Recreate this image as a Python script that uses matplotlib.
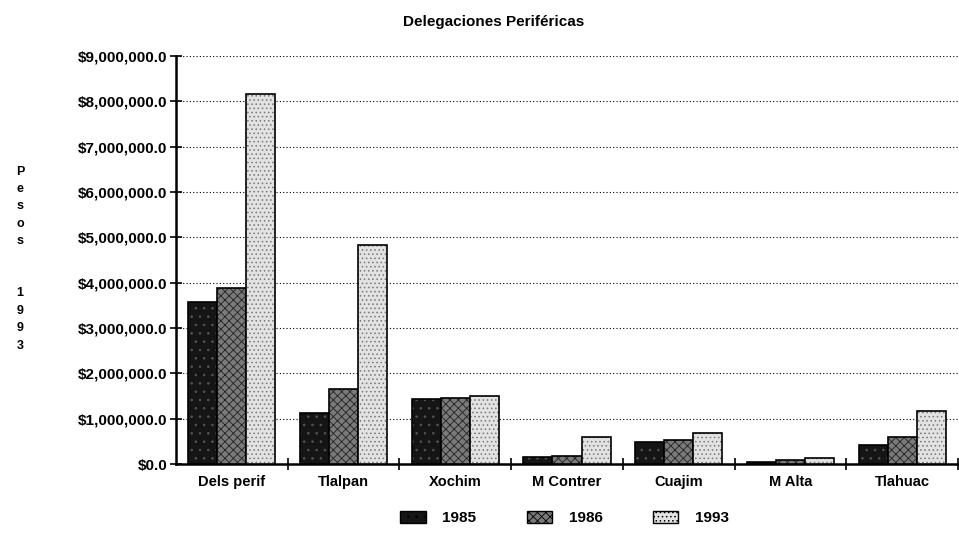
import matplotlib
matplotlib.use("Agg")
import matplotlib.pyplot as plt
from matplotlib.patches import Patch
from matplotlib.ticker import FuncFormatter, MultipleLocator
import numpy as np

# Data (pesos, 1993 prices)
categories = ["Dels perif", "Tlalpan", "Xochim", "M Contrer", "Cuajim", "M Alta", "Tlahuac"]
years = ["1985", "1986", "1993"]
v1985 = [3580000, 1120000, 1430000, 150000, 480000, 50000, 420000]
v1986 = [3880000, 1650000, 1460000, 180000, 520000, 80000, 600000]
v1993 = [8170000, 4820000, 1500000, 600000, 690000, 130000, 1170000]
series = [v1985, v1986, v1993]

FACES = ["#151515", "#7a7a7a", "#e2e2e2"]
HATCHES = ["..", "xxxx", "...."]
HATCH_COLORS = ["#555555", "#222222", "#777777"]

plt.rcParams["font.family"] = ["Liberation Sans", "DejaVu Sans"]
plt.rcParams["font.weight"] = "bold"
plt.rcParams["hatch.linewidth"] = 0.6

fig = plt.figure(figsize=(9.59, 5.38), dpi=100)
ax = fig.add_axes([0.1835, 0.1375, 0.8155, 0.7585])

x = np.arange(len(categories))
w = 0.26
for i, vals in enumerate(series):
    bars = ax.bar(x + (i - 1) * w, vals, width=w, color=FACES[i],
                  edgecolor="black", linewidth=1.2, zorder=3)
    for b in bars:
        b.set_hatch(HATCHES[i])
        b._hatch_color = matplotlib.colors.to_rgba(HATCH_COLORS[i])

ax.set_xlim(-0.5, len(categories) - 0.5)
ax.set_ylim(0, 9000000)
ax.yaxis.set_major_locator(MultipleLocator(1000000))
ax.yaxis.set_major_formatter(FuncFormatter(lambda v, p: f"${v:,.1f}"))
ax.grid(axis="y", linestyle=(0, (1, 2)), color="black", linewidth=0.8, zorder=0)

ax.set_xticks(x)
ax.set_xticklabels(categories)
ax.set_xticks(np.arange(len(categories)) + 0.5, minor=True)
ax.tick_params(axis="x", which="major", length=0, pad=8, labelsize=10.5)
ax.tick_params(axis="x", which="minor", direction="inout", length=8, width=1.2)
ax.tick_params(axis="y", direction="inout", length=8, width=1.2, pad=2, labelsize=11)

for s in ["top", "right"]:
    ax.spines[s].set_visible(False)
for s in ["left", "bottom"]:
    ax.spines[s].set_linewidth(1.8)

fig.text(0.515, 0.959, "Delegaciones Periféricas", ha="center", va="center",
         fontsize=11, fontweight="bold")
fig.text(0.021, 0.5195, "P\ne\ns\no\ns\n\n\n1\n9\n9\n3", ha="center", va="center",
         fontsize=9, fontweight="bold", linespacing=1.6)

handles = [Patch(facecolor=FACES[i], edgecolor="black", hatch=HATCHES[i], linewidth=1)
           for i in range(3)]
fig.legend(handles, years, loc="center", bbox_to_anchor=(0.589, 0.037), ncol=3,
           frameon=False, fontsize=11, handlelength=1.65, handleheight=0.9,
           columnspacing=3.3, handletextpad=1.1)

fig.savefig("out.png", dpi=100)
